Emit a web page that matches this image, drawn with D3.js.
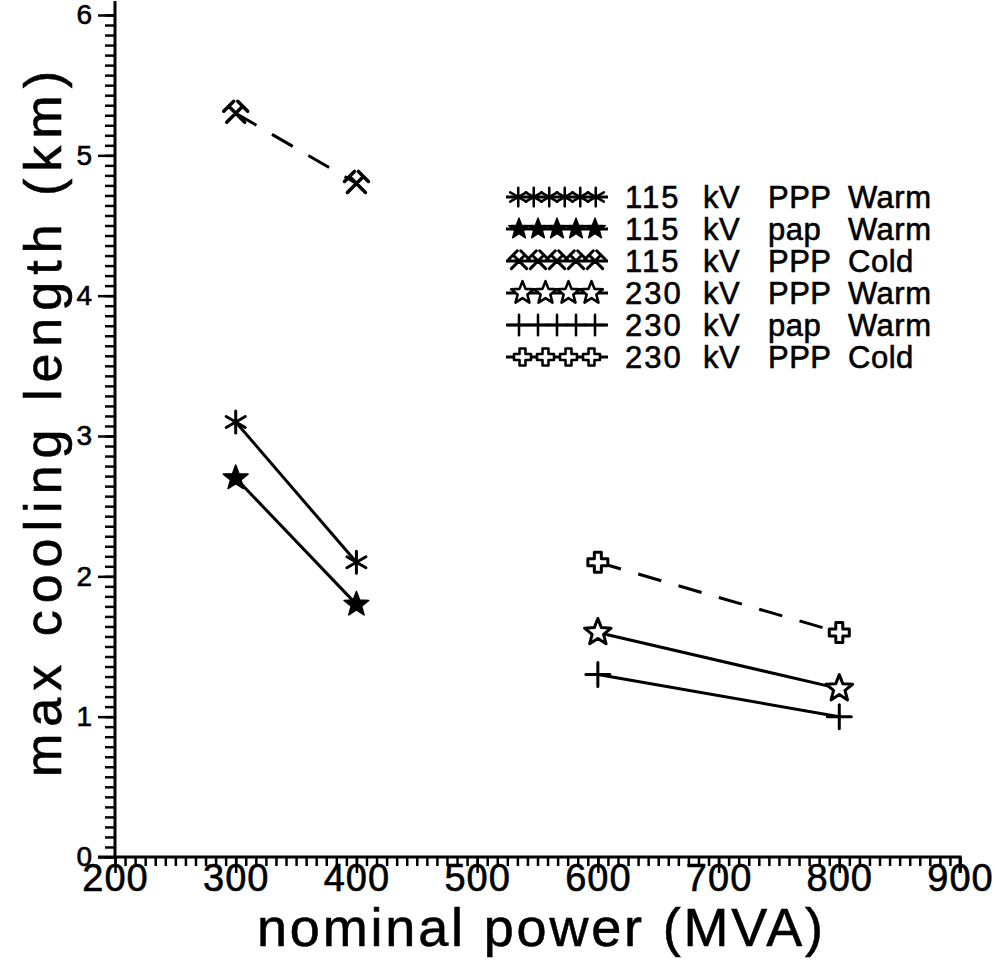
<!DOCTYPE html>
<html>
<head>
<meta charset="utf-8">
<script src="https://cdn.jsdelivr.net/npm/d3@7"></script>
<style>
  html, body { margin: 0; padding: 0; background: #fff; }
  svg { display: block; }
  text { font-family: "Liberation Sans", Arial, sans-serif; fill: #000; stroke: #000; stroke-width: 0.6px; }
</style>
</head>
<body>
<svg id="chart" width="995" height="963"></svg>
<script>
// ---- data -------------------------------------------------------------
const seriesNames = [
  "115 kV PPP Warm",
  "115 kV pap Warm",
  "115 kV PPP Cold",
  "230 kV PPP Warm",
  "230 kV pap Warm",
  "230 kV PPP Cold"
];
const seriesPower = [
  [300, 400],
  [300, 400],
  [300, 400],
  [600, 800],
  [600, 800],
  [600, 800]
];
const seriesLength = [
  [3.1, 2.1],
  [2.7, 1.8],
  [5.3, 4.8],
  [1.6, 1.2],
  [1.3, 1.0],
  [2.1, 1.6]
];
const seriesMarker = ["asterisk", "starFilled", "hammers", "starOpen", "plus", "crossOpen"];
const seriesDashed = [false, false, true, false, false, true];

const xTicks = [200, 300, 400, 500, 600, 700, 800, 900];
const yTicks = [0, 1, 2, 3, 4, 5, 6];
const xTitle = "nominal power (MVA)";
const yTitle = "max cooling length (km)";

// ---- layout -----------------------------------------------------------
const svg = d3.select("#chart");
const x = d3.scaleLinear().domain([200, 900]).range([115, 960]);
const y = d3.scaleLinear().domain([0, 6]).range([857, 15]);

// ---- marker shapes ----------------------------------------------------
function starPath(R, r) {
  const pts = [];
  for (let i = 0; i < 10; i++) {
    const a = -Math.PI / 2 + i * Math.PI / 5;
    const rad = i % 2 === 0 ? R : r;
    pts.push([rad * Math.cos(a), rad * Math.sin(a)]);
  }
  return "M" + pts.map(p => p.join(",")).join("L") + "Z";
}
const markerDefs = {
  asterisk: { d: (() => {
      const r = 11, c = Math.cos(Math.PI / 6) * r, s = Math.sin(Math.PI / 6) * r;
      return `M0,${-r}L0,${r}M${-c},${-s}L${c},${s}M${-c},${s}L${c},${-s}`;
    })(), fill: "none", sw: 3, step: 15.5 },
  starFilled: { d: starPath(13, 5.5), fill: "#000", sw: 1.5, step: 19 },
  hammers: { d: "M-7,-7L9,9M7,-7L-9,9M-12,-2L-2,-12M2,-12L12,-2M-12,-2L-9,-5M12,-2L9,-5", fill: "none", sw: 3.5, step: 19 },
  starOpen: { d: starPath(14, 6), fill: "#fff", sw: 3, step: 23 },
  plus: { d: "M0,-12L0,12M-12,0L12,0", fill: "none", sw: 3, step: 19 },
  crossOpen: { d: "M-3.5,-10L3.5,-10L3.5,-3.5L10,-3.5L10,3.5L3.5,3.5L3.5,10L-3.5,10L-3.5,3.5L-10,3.5L-10,-3.5L-3.5,-3.5Z", fill: "#fff", sw: 3, step: 23 }
};

function drawMarker(g, kind, cx, cy) {
  const m = markerDefs[kind];
  g.append("path")
    .attr("d", m.d)
    .attr("transform", `translate(${cx},${cy})`)
    .attr("fill", m.fill)
    .attr("stroke", "#000")
    .attr("stroke-width", m.sw)
    .attr("stroke-linejoin", "round")
    .attr("stroke-linecap", "round");
}

// ---- axes -------------------------------------------------------------
const xMinor = d3.range(200, 900.001, 100 / 12);
const yMinor = d3.range(0, 6.0001, 1 / 14);

const xAxisMinor = svg.append("g").attr("transform", `translate(0,${y(0)})`)
  .call(d3.axisBottom(x).tickValues(xMinor).tickSize(9).tickFormat(""));
const xAxisMajor = svg.append("g").attr("transform", `translate(0,${y(0)})`)
  .call(d3.axisBottom(x).tickValues(xTicks).tickSize(16).tickFormat(d3.format("d")));
const yAxisMinor = svg.append("g").attr("transform", `translate(${x(200)},0)`)
  .call(d3.axisLeft(y).tickValues(yMinor).tickSize(10).tickFormat(""));
const yAxisMajor = svg.append("g").attr("transform", `translate(${x(200)},0)`)
  .call(d3.axisLeft(y).tickValues(yTicks).tickSize(17).tickPadding(6).tickFormat(d3.format("d")));

[xAxisMinor, xAxisMajor, yAxisMinor, yAxisMajor].forEach(g => {
  g.select(".domain").attr("stroke", "#000").attr("stroke-width", 3);
  g.selectAll(".tick line").attr("stroke", "#000").attr("stroke-width", 2.5);
});
xAxisMinor.select(".domain").remove();
yAxisMinor.select(".domain").remove();
xAxisMajor.select(".domain").attr("d", `M${x(200)},0H${x(900)}V16`);
yAxisMajor.select(".domain").attr("d", `M-17,${y(0)}H0V${y(6) - 14}`);

xAxisMajor.selectAll(".tick text")
  .style("font-family", "'Liberation Sans', Arial, sans-serif")
  .attr("font-size", 38)
  .attr("letter-spacing", 1)
  .attr("y", 7)
  .attr("fill", "#000");
yAxisMajor.selectAll(".tick text")
  .style("font-family", "'Liberation Sans', Arial, sans-serif")
  .attr("font-size", 28)
  .attr("fill", "#000");

// ---- axis titles ------------------------------------------------------
svg.append("text")
  .attr("x", 540).attr("y", 946)
  .attr("text-anchor", "middle")
  .attr("font-size", 54)
  .attr("textLength", 566)
  .attr("lengthAdjust", "spacing")
  .text(xTitle);

svg.append("text")
  .attr("transform", "translate(61,424) rotate(-90)")
  .attr("text-anchor", "middle")
  .attr("font-size", 52)
  .attr("textLength", 706)
  .attr("lengthAdjust", "spacing")
  .text(yTitle);

// ---- series -----------------------------------------------------------
const line = d3.line().x(d => x(d[0])).y(d => y(d[1]));
const plot = svg.append("g");
seriesNames.forEach((name, i) => {
  const pts = seriesPower[i].map((p, j) => [p, seriesLength[i][j]]);
  plot.append("path")
    .attr("d", line(pts))
    .attr("fill", "none")
    .attr("stroke", "#000")
    .attr("stroke-width", 3)
    .attr("stroke-dasharray", seriesDashed[i] ? "24,18" : null);
  pts.forEach(p => drawMarker(plot, seriesMarker[i], x(p[0]), y(p[1])));
});

// ---- legend -----------------------------------------------------------
const legend = svg.append("g");
const wordCols = [625, 703, 768, 848];
const sampleX0 = 506, sampleX1 = 608;
seriesNames.forEach((name, i) => {
  const base = 208 + i * 32;
  const cy = base - 11;
  legend.append("line")
    .attr("x1", sampleX0).attr("x2", sampleX1)
    .attr("y1", cy).attr("y2", cy)
    .attr("stroke", "#000").attr("stroke-width", 3);
  const step = markerDefs[seriesMarker[i]].step;
  const n = Math.floor((sampleX1 - sampleX0 - 12) / step) + 1;
  const span = (n - 1) * step;
  const start = (sampleX0 + sampleX1) / 2 - span / 2;
  for (let k = 0; k < n; k++) {
    const g = legend.append("g").attr("transform", `translate(${start + k * step},${cy}) scale(0.85)`);
    drawMarker(g, seriesMarker[i], 0, 0);
  }
  name.split(" ").forEach((w, k) => {
    legend.append("text")
      .attr("x", wordCols[k]).attr("y", base)
      .attr("font-size", 31)
      .attr("letter-spacing", /^\d/.test(w) ? 2 : 0.5)
      .text(w);
  });
});
</script>
</body>
</html>
